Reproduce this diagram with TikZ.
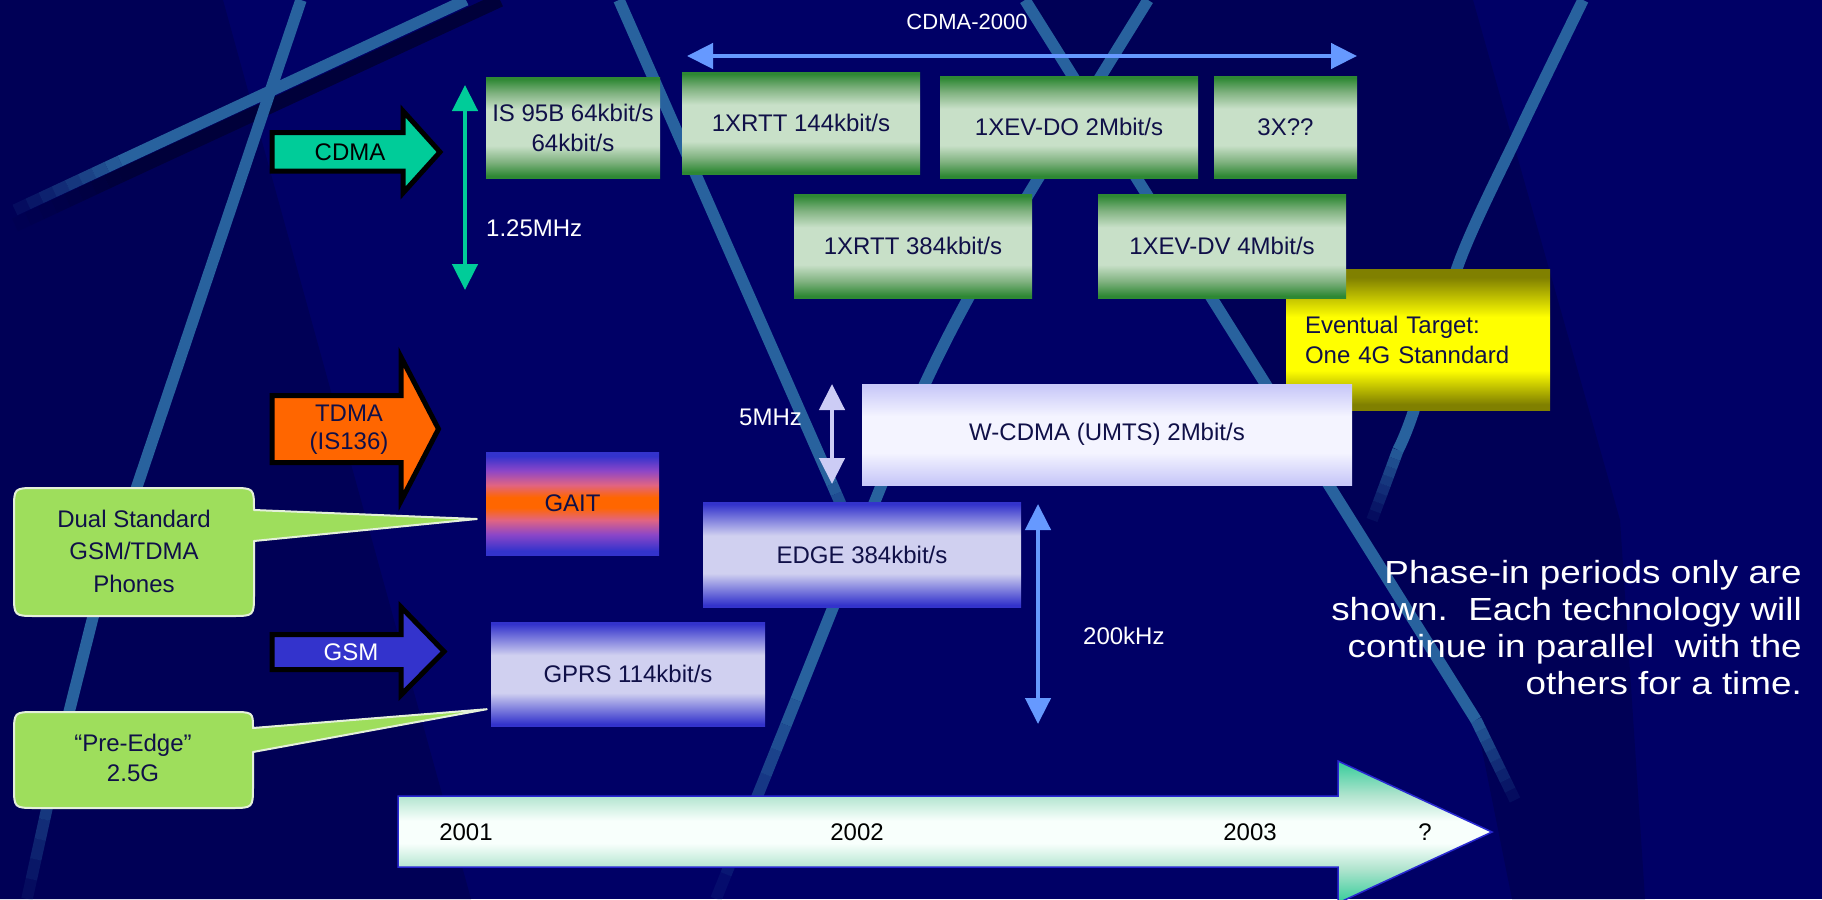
\documentclass[tikz,border=0pt]{standalone}
\usepackage{fontspec}
\setmainfont{Liberation Sans}
\usetikzlibrary{arrows.meta,calc}

\definecolor{bgbase}{RGB}{0,0,102}
\definecolor{bgdark}{RGB}{0,0,86}
\definecolor{bgband}{RGB}{0,0,58}
\definecolor{streak}{RGB}{40,98,158}
\definecolor{navytxt}{RGB}{16,16,72}
\definecolor{gdark}{RGB}{46,136,52}
\definecolor{gmid}{RGB}{128,178,128}
\definecolor{glight}{RGB}{200,224,200}
\definecolor{lavedge}{RGB}{200,200,248}
\definecolor{lavmid}{RGB}{244,244,255}
\definecolor{bedge}{RGB}{51,51,204}
\definecolor{bmid}{RGB}{208,208,240}
\definecolor{gpurple}{RGB}{140,70,200}
\definecolor{gpink}{RGB}{225,100,130}
\definecolor{gorange}{RGB}{255,102,0}
\definecolor{oliveedge}{RGB}{128,128,0}
\definecolor{yelmid}{RGB}{255,255,0}
\definecolor{cdmateal}{RGB}{0,204,153}
\definecolor{lblue}{RGB}{102,153,255}
\definecolor{lavarrow}{RGB}{204,204,245}
\definecolor{tdmaorange}{RGB}{255,102,0}
\definecolor{gsmblue}{RGB}{51,51,204}
\definecolor{callfill}{RGB}{158,222,92}
\definecolor{callline}{RGB}{228,240,218}
\definecolor{mint}{RGB}{176,228,206}
\definecolor{tlgreen}{RGB}{51,204,153}
\definecolor{tlwhite}{RGB}{248,255,252}
\definecolor{tlborder}{RGB}{40,40,210}

\pgfdeclareverticalshading{greenbar}{100bp}{color(0bp)=(gdark); color(26bp)=(gdark); color(33bp)=(gmid); color(41bp)=(glight); color(59bp)=(glight); color(67bp)=(gmid); color(74bp)=(gdark); color(100bp)=(gdark)}
\pgfdeclareverticalshading{lavbar}{100bp}{color(0bp)=(lavedge); color(26bp)=(lavedge); color(41bp)=(lavmid); color(59bp)=(lavmid); color(74bp)=(lavedge); color(100bp)=(lavedge)}
\pgfdeclareverticalshading{bluebar}{100bp}{color(0bp)=(bedge); color(26bp)=(bedge); color(41bp)=(bmid); color(59bp)=(bmid); color(74bp)=(bedge); color(100bp)=(bedge)}
\pgfdeclareverticalshading{gaitbar}{100bp}{color(0bp)=(bedge); color(27bp)=(bedge); color(35bp)=(gpurple); color(42bp)=(gpink); color(48bp)=(gorange); color(53bp)=(gorange); color(59bp)=(gpink); color(66bp)=(gpurple); color(73bp)=(bedge); color(100bp)=(bedge)}
\pgfdeclareverticalshading{yellowbar}{100bp}{color(0bp)=(oliveedge); color(27bp)=(oliveedge); color(39bp)=(yelmid); color(58bp)=(yelmid); color(72bp)=(oliveedge); color(100bp)=(oliveedge)}
\pgfdeclareverticalshading{tlshade}{100bp}{color(0bp)=(tlgreen); color(25bp)=(tlgreen); color(37bp)=(mint); color(46bp)=(tlwhite); color(54bp)=(tlwhite); color(63bp)=(mint); color(75bp)=(tlgreen); color(100bp)=(tlgreen)}

\newcommand\tailfade[3]{\foreach \k in {0,...,7}{\pgfmathsetmacro\fA{\k/8}\pgfmathsetmacro\fB{(\k+1)/8}\pgfmathsetmacro\fOp{0.9-\k*0.11}\draw[#1,opacity=\fOp,line cap=butt] ($#2!\fA!#3$) -- ($#2!\fB!#3$);}}

\tikzset{
  streakline/.style={line width=11.5pt, draw=streak, line join=round},
  darkband/.style={line width=14pt, draw=bgband, line join=round},
  lbl/.style={font=\fontsize{24}{30}\selectfont, inner sep=0pt, align=center},
  box/.style={rectangle, shade, lbl, text=navytxt},
  fatarrow/.style={draw=black, line width=5pt, line join=miter, miter limit=10},
  callout/.style={fill=callfill, draw=callline, line width=2pt, line join=round},
  dblarrow/.style={line width=4.5pt, {Triangle[width=25pt,length=26pt]}-{Triangle[width=25pt,length=26pt]}},
  notetext/.style={text=white, font=\fontsize{32}{37}\selectfont, align=right, inner sep=0pt}
}

\begin{document}
\begin{tikzpicture}[x=1pt,y=-1pt]
\useasboundingbox (0,0) rectangle (1822,899);
\clip (0,0) rectangle (1822,899);
% background
\fill[bgbase] (0,0) rectangle (1822,899);
\fill[bgdark] (0,0) -- (223,0) -- (471,899) -- (0,899) -- cycle;
\fill[bgdark] (1025,0) -- (1473,0) -- (1620,520) -- (1645,899) -- (1512,899) -- (1476,720) -- cycle;
% streaks
\draw[darkband] (500,0) -- (120,176);
\tailfade{darkband}{(120,176)}{(15,225)}
\draw[streakline] (466,0) -- (120,161);
\tailfade{streakline}{(120,161)}{(15,210)}
\draw[streakline] (301,0) -- (93,617) -- (62,740);
\tailfade{streakline}{(62,740)}{(27,899)}
\draw[streakline] (619,0) -- (832,484);
\tailfade{streakline}{(832,484)}{(866,562)}
\draw[streakline] (1148,0) .. controls (939,337.5) .. (834,605) -- (796,700);
\tailfade{streakline}{(796,700)}{(716,899)}
\draw[streakline] (1025,0) -- (1476,720);
\tailfade{streakline}{(1476,720)}{(1515,800)}
\draw[streakline] plot[smooth] coordinates {(1583,0) (1520,130) (1460,260) (1414,410) (1398,450)};
\tailfade{streakline}{(1398,450)}{(1372,520)}

% boxes
\node[box, shading=yellowbar, minimum width=264pt, minimum height=141pt, text width=226pt, align=left, inner xsep=19pt] (target) at (1418,339.5) {Eventual Target:\\One 4G Stanndard};
\node[box, shading=greenbar, minimum width=174pt, minimum height=101pt] (is95) at (573,127.5) {IS 95B 64kbit/s\\64kbit/s};
\node[box, shading=greenbar, minimum width=238pt, minimum height=102pt] (x144) at (801,123) {1XRTT 144kbit/s};
\node[box, shading=greenbar, minimum width=258pt, minimum height=102pt] (xdo) at (1069,127) {1XEV-DO 2Mbit/s};
\node[box, shading=greenbar, minimum width=143pt, minimum height=102pt] (x3) at (1285.5,127) {3X??};
\node[box, shading=greenbar, minimum width=238pt, minimum height=104pt] (x384) at (913,246) {1XRTT 384kbit/s};
\node[box, shading=greenbar, minimum width=248pt, minimum height=104pt] (xdv) at (1222,246) {1XEV-DV 4Mbit/s};
\node[box, shading=lavbar, minimum width=490pt, minimum height=101pt] (wcdma) at (1107,434.5) {W-CDMA (UMTS) 2Mbit/s};
\node[box, shading=gaitbar, minimum width=173pt, minimum height=103pt] (gait) at (572.5,503.5) {GAIT};
\node[box, shading=bluebar, minimum width=318pt, minimum height=105pt] (edge) at (862,554.5) {EDGE 384kbit/s};
\node[box, shading=bluebar, minimum width=274pt, minimum height=104pt] (gprs) at (628,674) {GPRS 114kbit/s};

% big arrows
\draw[fatarrow, fill=cdmateal] (272,132.5) -- (403,132.5) -- (403,111) -- (440,152) -- (403,193) -- (403,171) -- (272,171) -- cycle;
\node[lbl, text=black] (cdmalbl) at (350,152) {CDMA};
\draw[fatarrow, fill=tdmaorange] (272,395.5) -- (401,395.5) -- (401,357) -- (438.5,429) -- (401,501) -- (401,462.5) -- (272,462.5) -- cycle;
\node[lbl, text=navytxt, font=\fontsize{24}{28}\selectfont] (tdmalbl) at (349,430) {TDMA\\(IS136)};
\draw[fatarrow, fill=gsmblue] (272,634.5) -- (401,634.5) -- (401,607) -- (444,651.5) -- (401,695) -- (401,669.5) -- (272,669.5) -- cycle;
\node[lbl, text=white] (gsmlbl) at (351,652) {GSM};

% double arrows
\coordinate (c2l) at (687,56);
\coordinate (c2r) at (1357,56);
\draw[dblarrow, draw=lblue] (c2l) -- (c2r);
\node[lbl, text=white, font=\fontsize{22}{26}\selectfont] (c2000) at (967,22) {CDMA-2000};
\coordinate (t1) at (465,85);
\coordinate (t2) at (465,290);
\draw[dblarrow, draw=cdmateal] (t1) -- (t2);
\node[lbl, text=white, anchor=west] (mhz125) at (486,228) {1.25MHz};
\coordinate (v1) at (832,384);
\coordinate (v2) at (832,484);
\draw[dblarrow, draw=lavarrow] (v1) -- (v2);
\node[lbl, text=white, anchor=west] (mhz5) at (739,417) {5MHz};
\coordinate (k1) at (1038,504);
\coordinate (k2) at (1038,724);
\draw[dblarrow, draw=lblue] (k1) -- (k2);
\node[lbl, text=white, anchor=west] (khz200) at (1083,636) {200kHz};

% callouts
\coordinate (gtip) at ($(gait.west)+(-9,15.5)$);
\path[callout] (36,488) -- (232,488) .. controls (254,488) .. (254,510) -- (gtip) -- (254,541) -- (254,594) .. controls (254,616) .. (232,616) -- (36,616) .. controls (14,616) .. (14,594) -- (14,510) .. controls (14,488) .. (36,488) -- cycle;
\node[lbl, text=navytxt, font=\fontsize{24}{32.5}\selectfont] (dualtxt) at (134,551) {Dual Standard\\GSM/TDMA\\Phones};
\coordinate (ptip) at ($(gprs.south west)+(-4,-17)$);
\path[callout] (36,712) -- (231,712) .. controls (253,712) .. (253,728) -- (ptip) -- (253,752) -- (253,786) .. controls (253,808) .. (231,808) -- (36,808) .. controls (14,808) .. (14,786) -- (14,734) .. controls (14,712) .. (36,712) -- cycle;
\node[lbl, text=navytxt] (pretxt) at (133,758) {“Pre-Edge”\\2.5G};

% timeline
\shadedraw[shading=tlshade, draw=tlborder, line width=1.5pt] (398,796) -- (1338,796) -- (1338,761) -- (1492,832) -- (1338,903) -- (1338,867) -- (398,867) -- cycle;
\node[lbl, text=black] (y2001) at (466,832) {2001};
\node[lbl, text=black] (y2002) at (857,832) {2002};
\node[lbl, text=black] (y2003) at (1250,832) {2003};
\node[lbl, text=black] (yq) at (1425,832) {?};

% note
\node[notetext, anchor=east, xscale=1.15] (note) at (1802,628) {Phase-in periods only are\\shown.\ \ Each technology will\\continue in parallel\ \ with the\\others for a time.};
\end{tikzpicture}
\end{document}
